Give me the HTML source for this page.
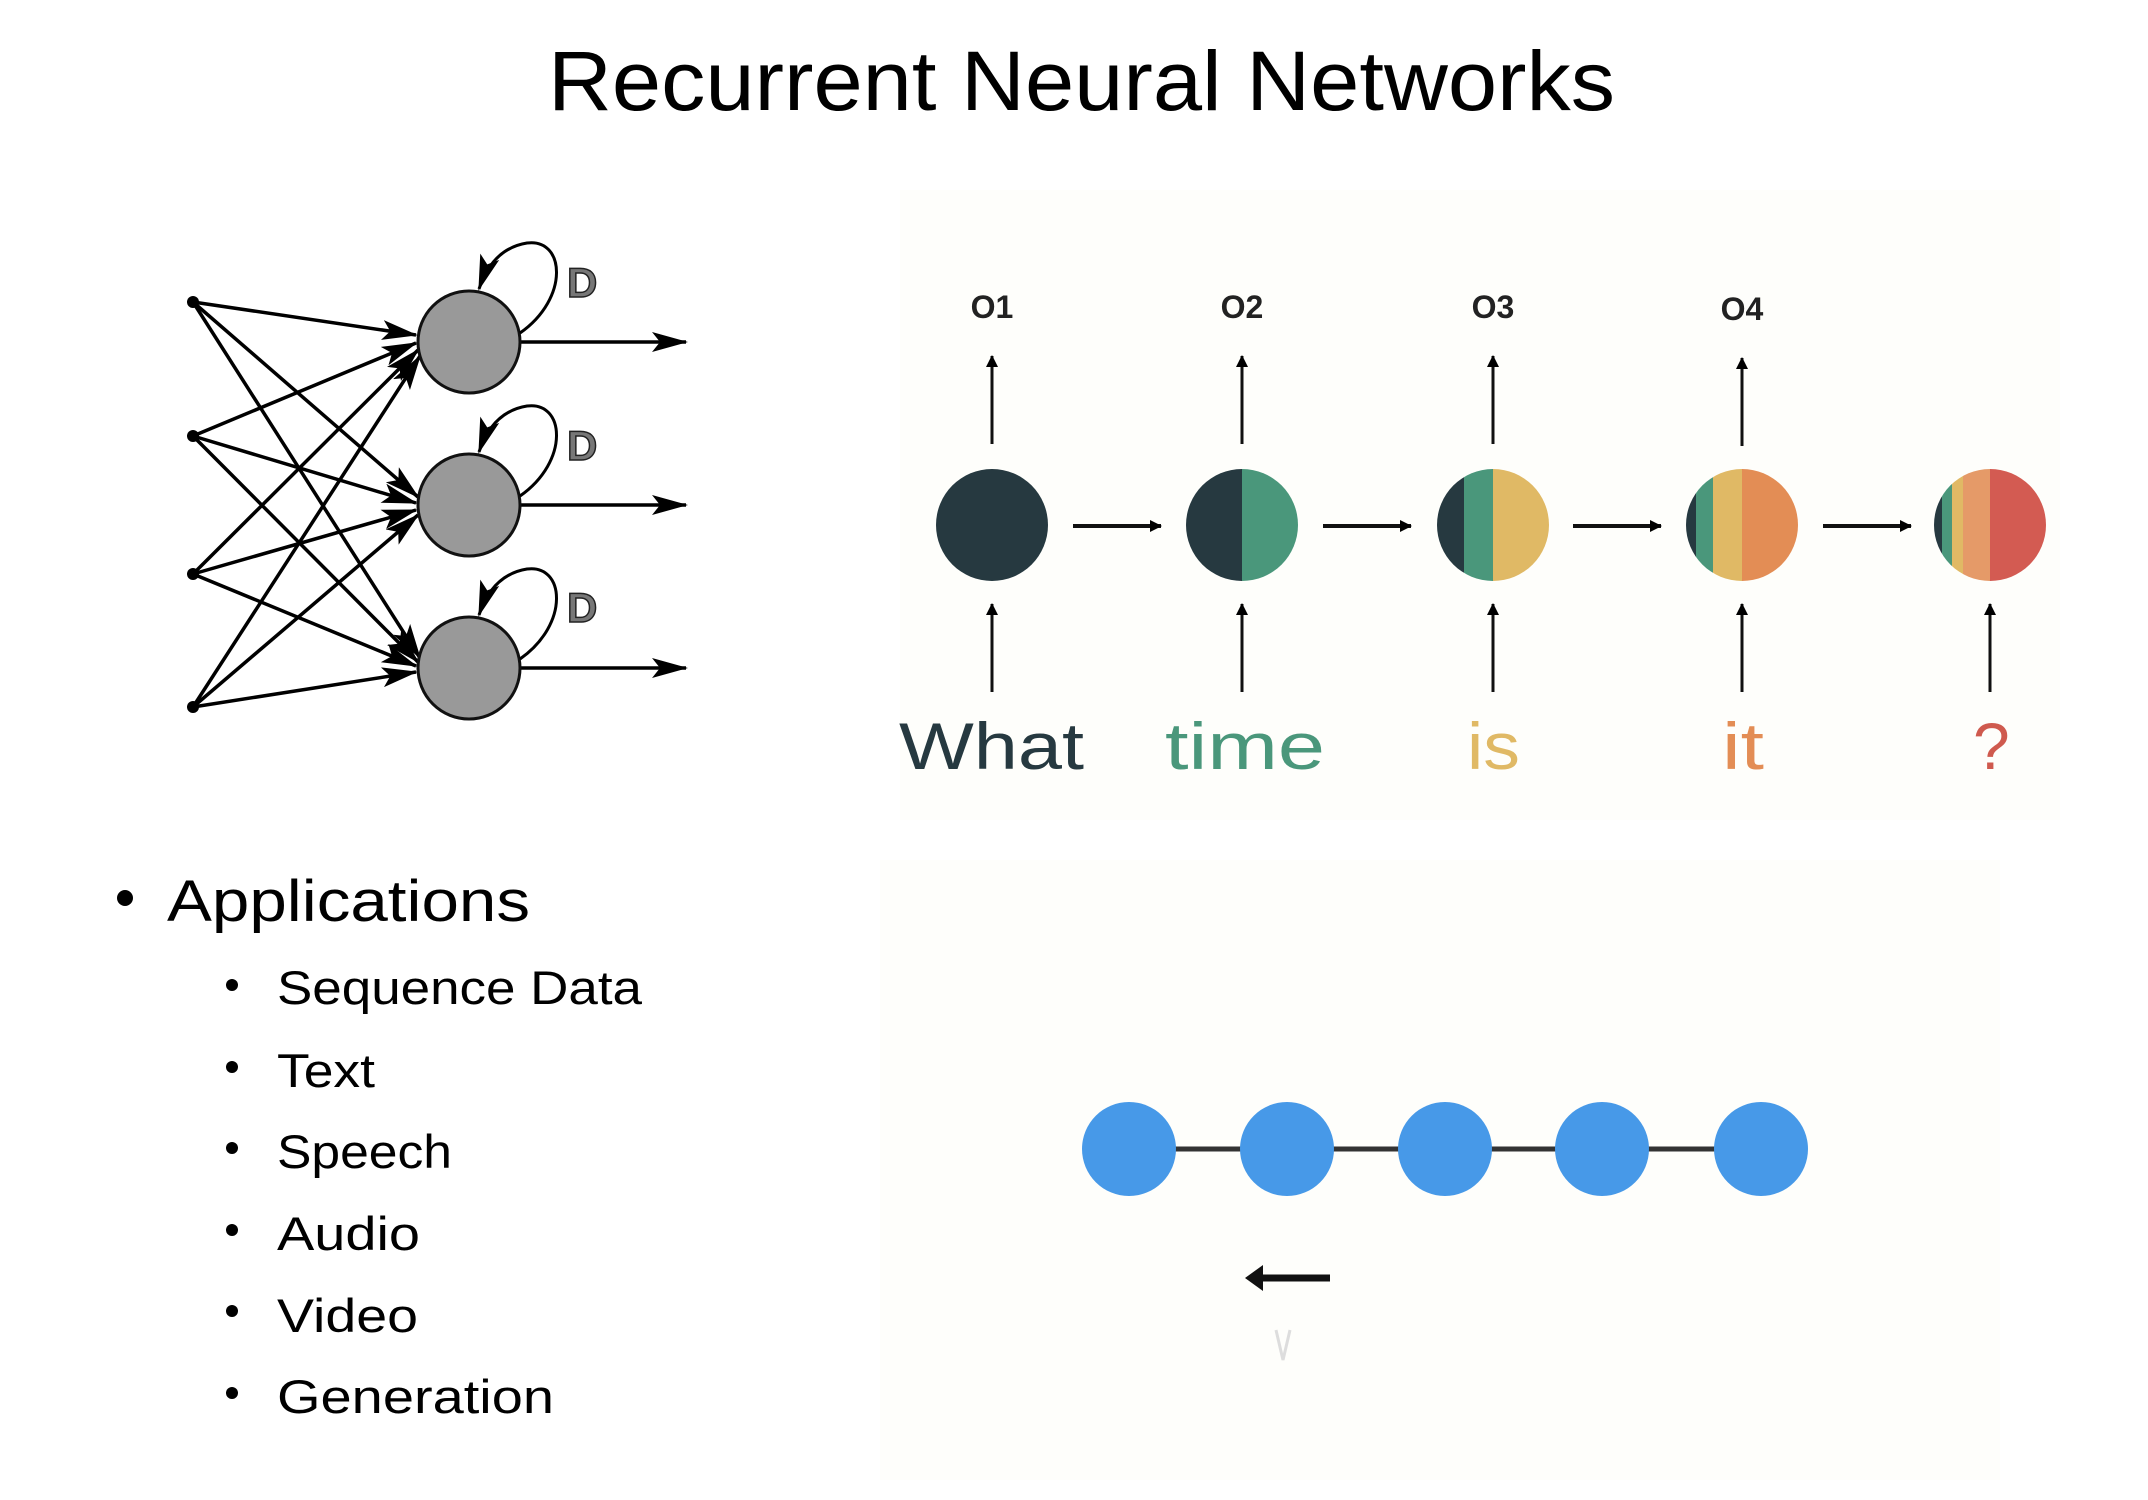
<!DOCTYPE html>
<html><head><meta charset="utf-8"><style>
html,body{margin:0;padding:0;background:#fff;}
svg{display:block;}
</style></head><body>
<svg width="2148" height="1500" viewBox="0 0 2148 1500" xmlns="http://www.w3.org/2000/svg">
<defs>
<marker id="ahb" viewBox="0 0 36 20" refX="34" refY="10" markerWidth="36" markerHeight="20" markerUnits="userSpaceOnUse" orient="auto"><path d="M0,0 L36,10 L0,20 L8,10 Z" fill="#000"/></marker>
<marker id="ahs" viewBox="0 0 12 12" refX="11" refY="6" markerWidth="12" markerHeight="12" markerUnits="userSpaceOnUse" orient="auto"><path d="M0,0 L12,6 L0,12 Z" fill="#000"/></marker>
<clipPath id="c3"><circle cx="1493" cy="525" r="56"/></clipPath>
<clipPath id="c4"><circle cx="1742" cy="525" r="56"/></clipPath>
<clipPath id="c5"><circle cx="1990" cy="525" r="56"/></clipPath>
<clipPath id="c2"><circle cx="1242" cy="525" r="56"/></clipPath>
</defs>
<rect width="2148" height="1500" fill="#fff"/>
<rect x="900" y="190" width="1160" height="630" fill="#fefefb"/>
<rect x="880" y="860" width="1120" height="620" fill="#fefefb"/>

<text x="548" y="110" font-family="Liberation Sans, sans-serif" font-size="84" textLength="1067" lengthAdjust="spacingAndGlyphs" fill="#000">Recurrent Neural Networks</text>

<!-- neural net -->
<g stroke="#000" stroke-width="3.5" fill="none">
<g marker-end="url(#ahb)">
<line x1="193" y1="302" x2="416" y2="335"/>
<line x1="193" y1="302" x2="418" y2="497"/>
<line x1="193" y1="302" x2="420" y2="658"/>
<line x1="193" y1="436" x2="416" y2="343"/>
<line x1="193" y1="436" x2="416" y2="503"/>
<line x1="193" y1="436" x2="418" y2="662"/>
<line x1="193" y1="574" x2="418" y2="350"/>
<line x1="193" y1="574" x2="416" y2="510"/>
<line x1="193" y1="574" x2="416" y2="666"/>
<line x1="193" y1="707" x2="420" y2="356"/>
<line x1="193" y1="707" x2="418" y2="515"/>
<line x1="193" y1="707" x2="416" y2="672"/>
<line x1="520" y1="342" x2="686" y2="342"/>
<line x1="520" y1="505" x2="686" y2="505"/>
<line x1="520" y1="668" x2="686" y2="668"/>
</g>
</g>
<g fill="#000"><circle cx="193" cy="302" r="6"/><circle cx="193" cy="436" r="6"/><circle cx="193" cy="574" r="6"/><circle cx="193" cy="707" r="6"/></g>
<g fill="#999" stroke="#111" stroke-width="3">
<circle cx="469" cy="342" r="51"/><circle cx="469" cy="505" r="51"/><circle cx="469" cy="668" r="51"/>
</g>
<g stroke="#000" stroke-width="3" fill="none" marker-end="url(#ahb)">
<path d="M520,333 C570,298 565,238 527,243 C502,247 487,265 479,289"/>
<path d="M520,496 C570,461 565,401 527,406 C502,410 487,428 479,452"/>
<path d="M520,659 C570,624 565,564 527,569 C502,573 487,591 479,615"/>
</g>
<g font-family="Liberation Sans, sans-serif" font-weight="bold" font-size="42" fill="#777" stroke="#222" stroke-width="1.5">
<text x="567" y="297">D</text><text x="567" y="460">D</text><text x="567" y="622">D</text>
</g>

<!-- RNN sequence -->
<g font-family="Liberation Sans, sans-serif" font-weight="bold" font-size="32" fill="#222" text-anchor="middle">
<text x="992" y="318">O1</text><text x="1242" y="318">O2</text><text x="1493" y="318">O3</text><text x="1742" y="320">O4</text>
</g>
<g stroke="#111" stroke-width="3" marker-end="url(#ahs)">
<line x1="992" y1="444" x2="992" y2="356"/><line x1="1242" y1="444" x2="1242" y2="356"/><line x1="1493" y1="444" x2="1493" y2="356"/><line x1="1742" y1="446" x2="1742" y2="358"/>
<line x1="992" y1="692" x2="992" y2="604"/><line x1="1242" y1="692" x2="1242" y2="604"/><line x1="1493" y1="692" x2="1493" y2="604"/><line x1="1742" y1="692" x2="1742" y2="604"/><line x1="1990" y1="692" x2="1990" y2="604"/>
</g>
<g stroke="#111" stroke-width="4" marker-end="url(#ahs)">
<line x1="1073" y1="526" x2="1161" y2="526"/><line x1="1323" y1="526" x2="1411" y2="526"/><line x1="1573" y1="526" x2="1661" y2="526"/><line x1="1823" y1="526" x2="1911" y2="526"/>
</g>
<circle cx="992" cy="525" r="56" fill="#263940"/>
<g clip-path="url(#c2)"><rect x="1180" y="460" width="62" height="130" fill="#263940"/><rect x="1242" y="460" width="62" height="130" fill="#4a977b"/></g>
<g clip-path="url(#c3)"><rect x="1430" y="460" width="34" height="130" fill="#263940"/><rect x="1464" y="460" width="29" height="130" fill="#4a977b"/><rect x="1493" y="460" width="62" height="130" fill="#e0b965"/></g>
<g clip-path="url(#c4)"><rect x="1680" y="460" width="16" height="130" fill="#263940"/><rect x="1696" y="460" width="17" height="130" fill="#4a977b"/><rect x="1713" y="460" width="29" height="130" fill="#e0b965"/><rect x="1742" y="460" width="62" height="130" fill="#e38d55"/></g>
<g clip-path="url(#c5)"><rect x="1930" y="460" width="12" height="130" fill="#263940"/><rect x="1942" y="460" width="10" height="130" fill="#4a977b"/><rect x="1952" y="460" width="11" height="130" fill="#e0b965"/><rect x="1963" y="460" width="27" height="130" fill="#e59a68"/><rect x="1990" y="460" width="62" height="130" fill="#d35b52"/></g>

<g font-family="Liberation Sans, sans-serif" font-size="66">
<text x="899" y="769" fill="#263940" textLength="185" lengthAdjust="spacingAndGlyphs">What</text>
<text x="1165" y="769" fill="#4a977b" textLength="160" lengthAdjust="spacingAndGlyphs">time</text>
<text x="1467" y="769" fill="#e0b965" textLength="53" lengthAdjust="spacingAndGlyphs">is</text>
<text x="1722" y="769" fill="#e38d55" textLength="42" lengthAdjust="spacingAndGlyphs">it</text>
<text x="1973" y="769" fill="#cf5a4e">?</text>
</g>

<!-- bullets -->
<g font-family="Liberation Sans, sans-serif" fill="#000">
<circle cx="125" cy="898" r="8"/>
<text x="167" y="921" font-size="58" textLength="363" lengthAdjust="spacingAndGlyphs">Applications</text>
<g font-size="47">
<circle cx="232" cy="985" r="6"/><text x="277" y="1004" textLength="365" lengthAdjust="spacingAndGlyphs">Sequence Data</text>
<circle cx="232" cy="1067" r="6"/><text x="277" y="1087" textLength="98" lengthAdjust="spacingAndGlyphs">Text</text>
<circle cx="232" cy="1148" r="6"/><text x="277" y="1168" textLength="175" lengthAdjust="spacingAndGlyphs">Speech</text>
<circle cx="232" cy="1230" r="6"/><text x="277" y="1250" textLength="143" lengthAdjust="spacingAndGlyphs">Audio</text>
<circle cx="232" cy="1311" r="6"/><text x="277" y="1332" textLength="141" lengthAdjust="spacingAndGlyphs">Video</text>
<circle cx="232" cy="1393" r="6"/><text x="277" y="1413" textLength="277" lengthAdjust="spacingAndGlyphs">Generation</text>
</g>
</g>

<!-- blue chain -->
<line x1="1129" y1="1149" x2="1761" y2="1149" stroke="#333" stroke-width="5"/>
<g fill="#4799e8">
<circle cx="1129" cy="1149" r="47"/><circle cx="1287" cy="1149" r="47"/><circle cx="1445" cy="1149" r="47"/><circle cx="1602" cy="1149" r="47"/><circle cx="1761" cy="1149" r="47"/>
</g>
<line x1="1330" y1="1278" x2="1262" y2="1278" stroke="#111" stroke-width="7"/>
<path d="M1245,1278 L1263,1265 L1263,1291 Z" fill="#111"/>
<path d="M1276,1330 L1283,1360 L1290,1330" stroke="#ddd" stroke-width="3" fill="none"/>
</svg>
</body></html>
